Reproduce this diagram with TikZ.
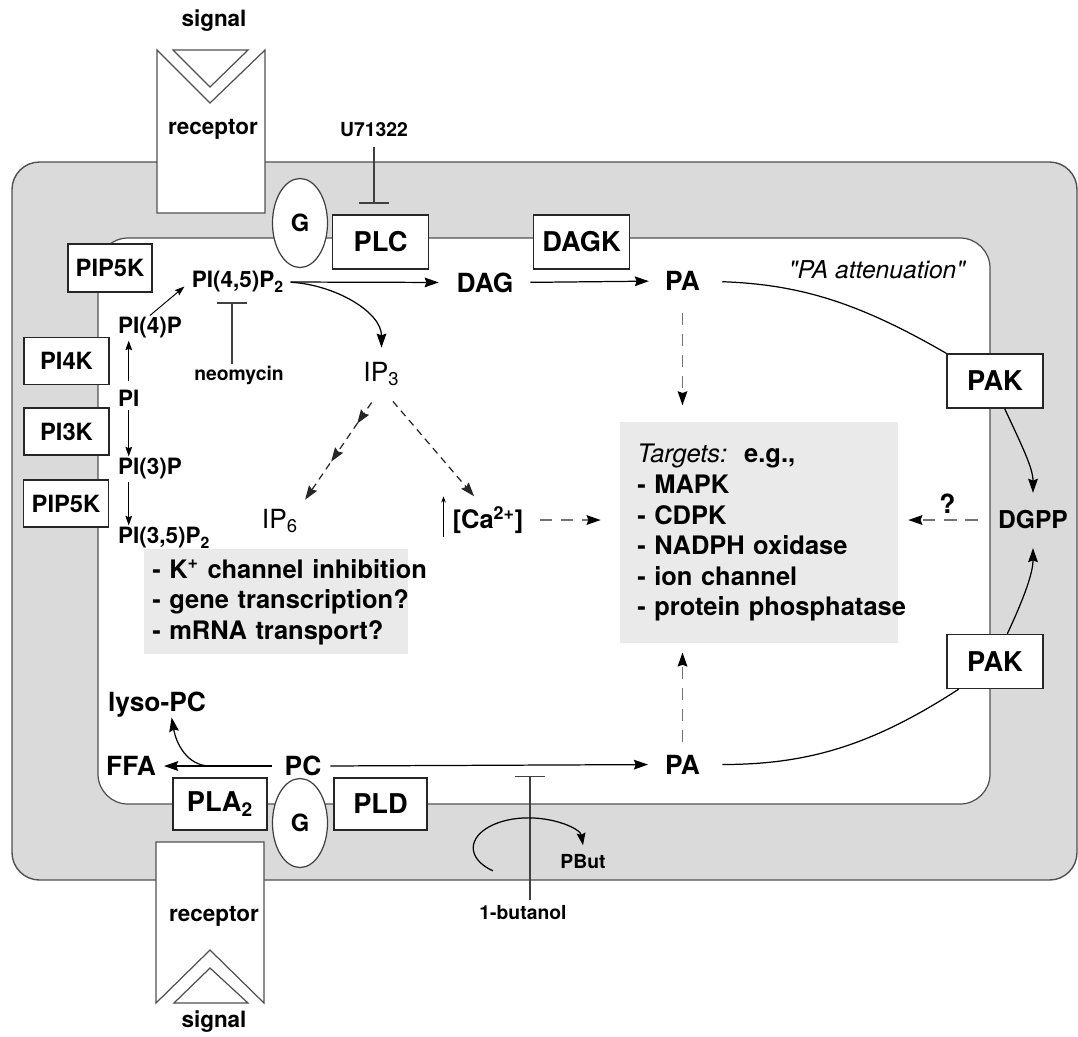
\documentclass[tikz,border=0pt]{standalone}
\usepackage{fontspec}
\setmainfont{TeX Gyre Heros}
\usepackage{tikz}
\usetikzlibrary{shapes.geometric, arrows.meta, decorations.markings}
\definecolor{membrane}{RGB}{218, 218, 218}
\definecolor{edgegrey}{RGB}{80, 80, 80}
\definecolor{notegrey}{RGB}{234, 234, 234}
\definecolor{dashgrey}{RGB}{115, 115, 115}

\begin{document}
\begin{tikzpicture}[x=0.02cm, y=0.02cm,
    bigbox/.style={draw=black!85, fill=white, line width=0.8pt, inner sep=0pt, minimum width=1.92cm, minimum height=1.08cm, font=\fontsize{15.5}{18}\selectfont\bfseries},
    smallbox/.style={bigbox, minimum width=1.7cm, minimum height=0.94cm, font=\fontsize{13.5}{16}\selectfont\bfseries},
    gprot/.style={ellipse, draw=black!75, fill=white, line width=0.7pt, inner sep=0pt, minimum width=1.1cm, minimum height=1.78cm, font=\fontsize{13.5}{16}\selectfont\bfseries},
    lbl/.style={inner sep=1pt, font=\fontsize{12.8}{15}\selectfont\bfseries},
    metab/.style={inner sep=1pt, font=\fontsize{15}{18}\selectfont\bfseries},
    drug/.style={inner sep=1pt, font=\fontsize{11}{13}\selectfont\bfseries},
    note/.style={fill=notegrey, anchor=north west, align=left, inner xsep=0.16cm, inner ysep=0pt, font=\fontsize{14.5}{17.4}\selectfont\bfseries},
    flow/.style={-{Stealth[length=8pt, width=5.5pt, inset=1pt]}, line width=0.7pt},
    thinflow/.style={-{Stealth[length=5.5pt, width=3.8pt, inset=0.8pt]}, line width=0.55pt},
    dflow/.style={-{Stealth[length=8pt, width=5.5pt, inset=1pt, color=black]}, line width=0.9pt, dashgrey, dash pattern=on 7pt off 5pt},
    ipflow/.style={flow, black!85, dash pattern=on 4pt off 3pt, postaction={decorate},
      decoration={markings,
        mark=at position 0.3 with {\arrow{Stealth[length=8pt, width=5.5pt, inset=1pt]}},
        mark=at position 0.62 with {\arrow{Stealth[length=8pt, width=5.5pt, inset=1pt]}}}},
    inhibit/.style={-{Bar[width=17pt, line width=0.9pt]}, line width=0.7pt, black!75}]

  \useasboundingbox (0,0) rectangle (1078,-1036);

  % membrane
  \draw[edgegrey, fill=membrane, line width=0.8pt, rounded corners=0.55cm] (12,-162) rectangle (1077,-880);
  \draw[edgegrey, fill=white, line width=0.7pt, rounded corners=0.6cm] (98,-238) rectangle (990,-804);

  % receptor, top
  \draw[edgegrey, fill=white, line width=0.7pt] (157,-213) -- (157,-50) -- (210,-103) -- (265,-50) -- (265,-213) -- cycle;
  \draw[edgegrey, fill=white, line width=0.7pt] (173,-50) -- (248,-50) -- (210,-87) -- cycle;
  \node[lbl] (sigtop) at (214,-21) {signal};
  \node[lbl] (rectop) at (213,-129) {receptor};

  % receptor, bottom
  \draw[edgegrey, fill=white, line width=0.7pt] (156,-842) -- (264,-842) -- (264,-1003) -- (210,-950) -- (156,-1003) -- cycle;
  \draw[edgegrey, fill=white, line width=0.7pt] (174,-1003) -- (248,-1003) -- (210,-968) -- cycle;
  \node[lbl] (recbot) at (214,-916) {receptor};
  \node[lbl] (sigbot) at (214,-1022) {signal};

  % enzymes
  \node[gprot] (gtop) at (300,-223) {G};
  \node[bigbox] (plc) at (380.5,-242) {PLC};
  \node[bigbox] (dagk) at (581.5,-242) {DAGK};
  \node[smallbox, minimum width=1.68cm, minimum height=0.96cm] (pip5ka) at (110,-268) {PIP5K};
  \node[smallbox] (pi4k) at (66.5,-361) {PI4K};
  \node[smallbox] (pi3k) at (66.5,-431.5) {PI3K};
  \node[smallbox] (pip5kb) at (66,-503.5) {PIP5K};
  \node[bigbox] (pakup) at (995,-381) {PAK};
  \node[bigbox] (pakdown) at (995,-661.5) {PAK};
  \node[gprot] (gbot) at (300,-823) {G};
  \node[bigbox, minimum width=1.88cm, minimum height=1.04cm] (pla) at (220,-804) {PLA\textsubscript{2}};
  \node[bigbox, minimum width=1.86cm, minimum height=1.04cm] (pld) at (380.5,-804) {PLD};

  % effects
  \node[note, text width=4.96cm, minimum height=2.1cm] (kbox) at (144,-549) {\mbox{- K\textsuperscript{+} channel inhibition}\\\mbox{- gene transcription?}\\\mbox{- mRNA transport?}};
  \node[note, text width=4.88cm, inner xsep=0.34cm, minimum height=4.42cm] (targets) at (620,-422) {\mbox{{\mdseries\itshape Targets:}\ \ e.g.,}\\\mbox{- MAPK}\\\mbox{- CDPK}\\\mbox{- NADPH oxidase}\\\mbox{- ion channel}\\\mbox{- protein phosphatase}};

  % phosphoinositides
  \node[lbl, anchor=west] (pi4p) at (116,-328) {PI(4)P};
  \node[lbl, anchor=west] (pi) at (116,-398) {PI};
  \node[lbl, anchor=west] (pi3p) at (116,-469) {PI(3)P};
  \node[lbl, anchor=west] (pi35p) at (116,-538) {PI(3,5)P\textsubscript{2}};
  \node[lbl] (pip2) at (238,-282) {PI(4,5)P\textsubscript{2}};
  \draw[thinflow, shorten <=4pt] (pi.north) -- (pi.north |- pi4p.south);
  \draw[thinflow, shorten <=1pt] (pi.south) -- (pi.south |- pi3p.north);
  \draw[thinflow] (pi.south |- pi3p.south) -- (pi.south |- pi35p.north);
  \draw[thinflow, shorten >=4pt] (pi4p.north) -- (pip2.west);

  % PLC
  \node[metab] (dag) at (485,-282.5) {DAG};
  \node[metab] (pa) at (682.5,-281) {PA};
  \node[metab, font=\fontsize{15}{18}\selectfont] (ip3) at (381.5,-374) {IP\textsubscript{3}};
  \node[metab, font=\fontsize{15}{18}\selectfont] (ip6) at (280,-521) {IP\textsubscript{6}};
  \node[metab, font=\fontsize{14.5}{17}\selectfont\bfseries] (ca) at (488,-520) {[Ca\textsuperscript{2+}]};
  \draw[flow, shorten <=2.5pt, shorten >=9pt] (pip2.east) -- (dag.west);
  \draw[flow, shorten <=8.5pt, shorten >=8pt] (dag.east) -- (pa.west);
  \draw[flow, shorten <=2.5pt, shorten >=7pt] (pip2.east) to[out=-3, in=90] (ip3.north);
  \draw[ipflow, shorten <=10pt, shorten >=5pt] (ip3.south) -- (ip6.north east);
  \draw[flow, black!85, dash pattern=on 4pt off 3pt, shorten <=10pt, shorten >=6pt] (ip3.south) -- ([xshift=-4pt]ca.north);
  \draw[-{Stealth[length=3.5pt, width=2.6pt]}, line width=0.5pt, shorten <=-1pt, shorten >=-4.5pt] ([xshift=-4pt]ca.south west) -- ([xshift=-4pt]ca.north west);
  \draw[dflow, shorten <=8pt, shorten >=11pt] (ca.east) -- (ca.east -| targets.west);
  \draw[dflow, shorten <=11.5pt, shorten >=9.5pt] (pa.south) -- (pa.south |- targets.north);

  % PA attenuation
  \node[inner sep=1pt, font=\fontsize{14}{17}\selectfont\itshape] (atten) at (877,-270) {\textquotedbl PA attenuation\textquotedbl};
  \node[metab, font=\fontsize{14}{17}\selectfont\bfseries] (dgpp) at (1033,-520) {DGPP};
  \draw[line width=0.7pt, shorten <=11.5pt] (pa.east) to[out=-2, in=150] (pakup.north west);
  \draw[flow, shorten >=9pt] ([xshift=5.5pt]pakup.south) to[out=-65, in=90] (dgpp.north);
  \draw[flow, shorten >=9.5pt] ([xshift=7pt]pakdown.north) to[out=65, in=-90] (dgpp.south);
  \draw[dflow, shorten <=10.5pt, shorten >=5.5pt] (dgpp.west) -- node[metab, above=2pt, text=black] (qmark) {?} (dgpp.west -| targets.east);

  % PLD and PLA2
  \node[metab] (pc) at (303,-766) {PC};
  \node[metab] (ffa) at (131,-766) {FFA};
  \node[metab] (lyso) at (157,-704.5) {lyso-PC};
  \node[metab] (pab) at (682.5,-764.5) {PA};
  \draw[flow, shorten <=6pt, shorten >=3.5pt] (pc.west) -- coordinate[pos=0.58] (split) (ffa.east);
  \draw[flow, shorten >=-1pt] (split) to[out=180, in=-80] ([xshift=8.5pt]lyso.south);
  \draw[flow, shorten <=4pt, shorten >=8.5pt] (pc.east) -- (pab.west);
  \draw[dflow, shorten <=6pt, shorten >=5pt] (pab.north) -- (pab.north |- targets.south);
  \draw[line width=0.7pt, shorten <=11.5pt] (pab.east) to[out=0, in=-147] ([xshift=7pt]pakdown.south west);

  % inhibitors
  \node[drug] (u71322) at (374,-130) {U71322};
  \draw[inhibit, shorten <=4.5pt, shorten >=6pt] (u71322.south) -- (u71322.south |- plc.north);
  \node[drug] (neo) at (239,-375) {neomycin};
  \draw[inhibit, shorten >=4.5pt] ([xshift=-4pt]neo.north) -- ([xshift=-4pt]neo.north |- pip2.south);
  \node[drug] (butanol) at (523,-912.5) {1-butanol};
  \draw[inhibit, shorten <=2pt] ([xshift=4pt]butanol.north) -- ([xshift=4pt]butanol.north |- pc.base);
  \node[drug] (pbut) at (583,-861.5) {PBut};
  \draw[{Stealth[length=7pt, width=5pt, inset=1pt]}-, line width=0.7pt] ([yshift=4pt]pbut.north) arc[start angle=5, end angle=230, x radius=1.1cm, y radius=0.6cm];
\end{tikzpicture}
\end{document}
